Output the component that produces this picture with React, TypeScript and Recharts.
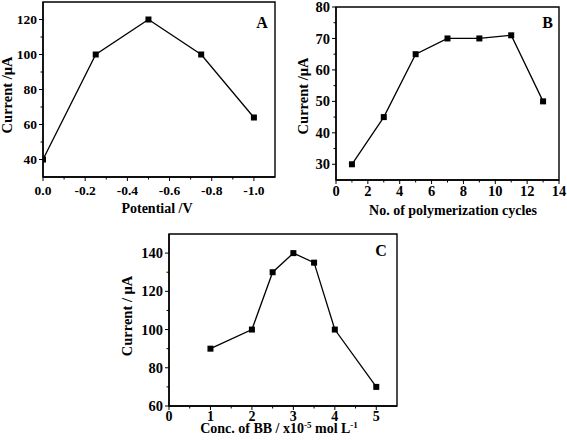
import React from 'react';
import { LineChart, Line, XAxis, YAxis, ReferenceArea } from 'recharts';

// Panel A
const potentialA = [0, -0.25, -0.5, -0.75, -1.0];
const currentA = [40, 100, 120, 100, 64];
const xMajorA = [0, -0.2, -0.4, -0.6, -0.8, -1.0];
const xMinorA = [-0.1, -0.3, -0.5, -0.7, -0.9];
const yMajorA = [40, 60, 80, 100, 120];
const yMinorA = [50, 70, 90, 110];

// Panel B
const cyclesB = [1, 3, 5, 7, 9, 11, 13];
const currentB = [30, 45, 65, 70, 70, 71, 50];
const xMajorB = [0, 2, 4, 6, 8, 10, 12, 14];
const xMinorB = [1, 3, 5, 7, 9, 11, 13];
const yMajorB = [30, 40, 50, 60, 70, 80];
const yMinorB = [35, 45, 55, 65, 75];

// Panel C
const concC = [1, 2, 2.5, 3, 3.5, 4, 5];
const currentC = [90, 100, 130, 140, 135, 100, 70];
const xMajorC = [0, 1, 2, 3, 4, 5];
const xMinorC = [0.5, 1.5, 2.5, 3.5, 4.5];
const yMajorC = [60, 80, 100, 120, 140];
const yMinorC = [70, 90, 110, 130];

const FONT = "'Liberation Serif','Times New Roman',serif";

const zip = (xs: number[], ys: number[]) => xs.map((x, i) => ({ x, y: ys[i] }));
const isIn = (arr: number[], v: number) => arr.some((m) => Math.abs(m - v) < 1e-9);

function makeXTick(majors: number[], fmt: (v: number) => string, fontSize: number, labelDy: number) {
  return (props: any) => {
    const { x, y, payload } = props;
    const v = payload.value;
    const major = isIn(majors, v);
    return (
      <g>
        <line x1={x} x2={x} y1={y} y2={y + (major ? 4 : 2.5)} stroke="#000" strokeWidth={1} />
        {major && (
          <text x={x} y={y + labelDy} textAnchor="middle" fontFamily={FONT} fontWeight="bold" fontSize={fontSize} fill="#000">
            {fmt(v)}
          </text>
        )}
      </g>
    );
  };
}

function makeYTick(majors: number[], fontSize: number, gap: number) {
  return (props: any) => {
    const { x, y, payload } = props;
    const v = payload.value;
    const major = isIn(majors, v);
    return (
      <g>
        <line x1={x - (major ? 4 : 2.5)} x2={x} y1={y} y2={y} stroke="#000" strokeWidth={1} />
        {major && (
          <text x={x - gap} y={y} dy="0.35em" textAnchor="end" fontFamily={FONT} fontWeight="bold" fontSize={fontSize} fill="#000">
            {v}
          </text>
        )}
      </g>
    );
  };
}

const SquareDot = (props: any) => {
  const { cx, cy, index } = props;
  return <rect key={'d' + index} x={cx - 3} y={cy - 3} width={6} height={6} fill="#000" />;
};

const axisLine = { stroke: '#000', strokeWidth: 1.4 };

type PanelProps = {
  data: { x: number; y: number }[];
  margin: { top: number; right: number; bottom: number; left: number };
  yWidth: number;
  xDomain: [number, number];
  yDomain: [number, number];
  xTicks: number[];
  yTicks: number[];
  xTick: any;
  yTick: any;
  reversed?: boolean;
};

function Panel(p: PanelProps) {
  return (
    <div style={{ position: 'absolute', left: 0, top: 0 }}>
      <LineChart width={567} height={441} data={p.data} margin={p.margin}>
        <XAxis
          dataKey="x"
          type="number"
          domain={p.xDomain}
          allowDataOverflow
          reversed={p.reversed}
          ticks={p.xTicks}
          interval={0}
          tickSize={0}
          tickMargin={0}
          tickLine={false}
          axisLine={axisLine}
          tick={p.xTick}
          height={30}
        />
        <YAxis
          type="number"
          domain={p.yDomain}
          allowDataOverflow
          ticks={p.yTicks}
          interval={0}
          tickSize={0}
          tickMargin={0}
          tickLine={false}
          axisLine={axisLine}
          tick={p.yTick}
          width={p.yWidth}
        />
        <ReferenceArea
          x1={p.xDomain[0]}
          x2={p.xDomain[1]}
          y1={p.yDomain[0]}
          y2={p.yDomain[1]}
          fill="none"
          stroke="#000"
          strokeWidth={1.4}
          ifOverflow="visible"
        />
        <Line
          dataKey="y"
          type="linear"
          stroke="#000"
          strokeWidth={1.3}
          dot={SquareDot}
          activeDot={false}
          isAnimationActive={false}
        />
      </LineChart>
    </div>
  );
}

const titleStyle = { fontFamily: FONT, fontWeight: 'bold' as const, fill: '#000' };

export default function App() {
  return (
    <div style={{ position: 'absolute', left: 0, top: 0, width: 567, height: 441, background: '#fff', overflow: 'hidden' }}>
      <Panel
        data={zip(potentialA, currentA)}
        margin={{ top: 2, right: 292, bottom: 234, left: 0 }}
        yWidth={43}
        xDomain={[-1.1, 0]}
        yDomain={[30, 130]}
        reversed
        xTicks={[...xMajorA, ...xMinorA]}
        yTicks={[...yMajorA, ...yMinorA]}
        xTick={makeXTick(xMajorA, (v) => (Math.abs(v) < 1e-9 ? '0.0' : v.toFixed(1)), 13.5, 18)}
        yTick={makeYTick(yMajorA, 13.5, 6)}
      />
      <Panel
        data={zip(cyclesB, currentB)}
        margin={{ top: 7, right: 8, bottom: 231, left: 300 }}
        yWidth={36}
        xDomain={[0, 14]}
        yDomain={[25, 80]}
        xTicks={[...xMajorB, ...xMinorB]}
        yTicks={[...yMajorB, ...yMinorB]}
        xTick={makeXTick(xMajorB, (v) => String(v), 14.5, 16)}
        yTick={makeYTick(yMajorB, 14.5, 6)}
      />
      <Panel
        data={zip(concC, currentC)}
        margin={{ top: 234, right: 170, bottom: 5, left: 130 }}
        yWidth={39}
        xDomain={[0, 5.5]}
        yDomain={[60, 150]}
        xTicks={[...xMajorC, ...xMinorC]}
        yTicks={[...yMajorC, ...yMinorC]}
        xTick={makeXTick(xMajorC, (v) => String(v), 14, 14.5)}
        yTick={makeYTick(yMajorC, 14.5, 6)}
      />
      <svg width={567} height={441} style={{ position: 'absolute', left: 0, top: 0, pointerEvents: 'none' }}>
        {/* Panel A */}
        <text x={157} y={213} textAnchor="middle" fontSize={14} {...titleStyle}>Potential /V</text>
        <text transform="translate(12,95) rotate(-90)" textAnchor="middle" fontSize={14.5} {...titleStyle}>Current /μA</text>
        <text x={262} y={28} textAnchor="middle" fontSize={16} {...titleStyle}>A</text>
        {/* Panel B */}
        <text x={453} y={214.5} textAnchor="middle" fontSize={14} {...titleStyle}>No. of polymerization cycles</text>
        <text transform="translate(307.5,96) rotate(-90)" textAnchor="middle" fontSize={14.5} {...titleStyle}>Current /μA</text>
        <text x={547.5} y={28} textAnchor="middle" fontSize={16} {...titleStyle}>B</text>
        {/* Panel C */}
        <text x={279} y={433} textAnchor="middle" fontSize={14} {...titleStyle}>
          Conc. of BB / x10<tspan fontSize={9} dy={-5}>-5</tspan>
          <tspan dy={5}> mol L</tspan>
          <tspan fontSize={9} dy={-5}>-1</tspan>
        </text>
        <text transform="translate(132,316) rotate(-90)" textAnchor="middle" fontSize={14.5} {...titleStyle}>Current / μA</text>
        <text x={381} y={255.5} textAnchor="middle" fontSize={16} {...titleStyle}>C</text>
      </svg>
    </div>
  );
}
